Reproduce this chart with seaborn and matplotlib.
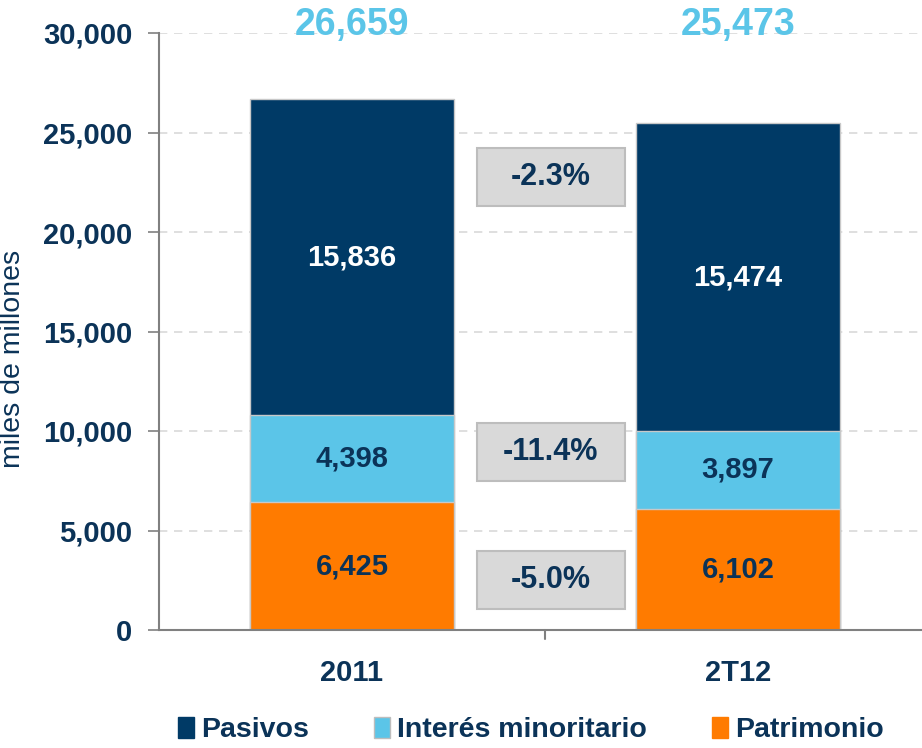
import numpy as np
import pandas as pd
import matplotlib
matplotlib.use('Agg')
import matplotlib.pyplot as plt
from matplotlib.patches import Rectangle, Patch
import seaborn as sns

sns.set_theme(style='white')
plt.rcParams['font.family'] = ['Liberation Sans', 'DejaVu Sans']

# data
PERIODS = ['2011', '2T12']
PATRIMONIO = [6425, 6102]
INTERES = [4398, 3897]
PASIVOS = [15836, 15474]
TOTALS = [26659, 25473]
CHANGES = ['-2.3%', '-11.4%', '-5.0%']
CHANGE_Y = [22750, 8950, 2500]

NAVY = '#003A66'
LIGHT = '#5BC5E8'
ORANGE = '#FF7B00'
TEXT = '#0B3358'

df = pd.DataFrame({
    'Periodo': PERIODS,
    'Patrimonio': PATRIMONIO,
    'Interes': INTERES,
    'Pasivos': PASIVOS,
})
df['cum_interes'] = df['Patrimonio'] + df['Interes']
df['cum_total'] = df['cum_interes'] + df['Pasivos']

fig = plt.figure(figsize=(9.22, 7.48), dpi=100)
ax = fig.add_axes([159 / 922, 118 / 748, 763 / 922, 597 / 748])

edge = dict(edgecolor='#C8C8C8', linewidth=1.0)
sns.barplot(data=df, x='Periodo', y='cum_total', color=NAVY, width=0.53, saturation=1, ax=ax, **edge)
sns.barplot(data=df, x='Periodo', y='cum_interes', color=LIGHT, width=0.53, saturation=1, ax=ax, **edge)
sns.barplot(data=df, x='Periodo', y='Patrimonio', color=ORANGE, width=0.53, saturation=1, ax=ax, **edge)

ax.set_ylim(0, 30000)
ax.set_xlim(-0.5, 1.477)
ax.set_yticks(np.arange(0, 30001, 5000))
ax.set_yticklabels([f'{v:,}' for v in range(0, 30001, 5000)], fontsize=21, fontweight='bold', color=TEXT)
ax.set_xticks([0, 1])
ax.set_xticklabels(PERIODS, fontsize=21, fontweight='bold', color=TEXT)
ax.tick_params(axis='x', length=0, pad=21)
ax.tick_params(axis='y', length=8, width=1.2, color='#808080', pad=11, left=True)
ax.set_xlabel('')
ax.set_ylabel('miles de millones', fontsize=20.5, color=TEXT)
ax.yaxis.set_label_coords(-0.174, 0.454)

ax.yaxis.grid(True, linestyle=(0, (5, 4)), color='#D9D9D9', linewidth=1.2)
ax.set_axisbelow(True)
for side in ['top', 'right']:
    ax.spines[side].set_visible(False)
ax.spines['left'].set_color('#808080')
ax.spines['left'].set_linewidth(1.5)
ax.spines['bottom'].set_color('#808080')
ax.spines['bottom'].set_linewidth(1.5)
# divider tick between categories
ax.plot([0.5, 0.5], [0, -9 / 597], transform=ax.get_xaxis_transform(), color='#808080',
        linewidth=1.5, clip_on=False)

# segment labels
for i in range(len(PERIODS)):
    ax.text(i, PATRIMONIO[i] / 2, f'{PATRIMONIO[i]:,}', ha='center', va='center',
            fontsize=21, fontweight='bold', color=TEXT)
    ax.text(i, PATRIMONIO[i] + INTERES[i] / 2, f'{INTERES[i]:,}', ha='center', va='center',
            fontsize=21, fontweight='bold', color=TEXT)
    ax.text(i, PATRIMONIO[i] + INTERES[i] + PASIVOS[i] / 2, f'{PASIVOS[i]:,}', ha='center',
            va='center', fontsize=21, fontweight='bold', color='white')
    ax.text(i, 30400, f'{TOTALS[i]:,}', ha='center', va='center', fontsize=27,
            fontweight='bold', color=LIGHT, clip_on=False)

# change boxes
box_w, box_h = 0.383, 2900
for label, yc in zip(CHANGES, CHANGE_Y):
    xc = 0.515
    ax.add_patch(Rectangle((xc - box_w / 2, yc - box_h / 2), box_w, box_h,
                           facecolor='#D9D9D9', edgecolor='#BDBDBD', linewidth=1.5, zorder=3))
    ax.text(xc, yc, label, ha='center', va='center', fontsize=22, fontweight='bold',
            color=TEXT, zorder=4)

handles = [Patch(facecolor=NAVY, edgecolor=NAVY), Patch(facecolor=LIGHT, edgecolor='#BDBDBD'),
           Patch(facecolor=ORANGE, edgecolor=ORANGE)]
leg = fig.legend(handles, ['Pasivos', 'Interés minoritario', 'Patrimonio'], loc='center',
                 bbox_to_anchor=(0.576, 0.024), ncol=3, frameon=False, handlelength=0.55,
                 handleheight=0.75, handletextpad=0.25, columnspacing=2.3,
                 prop={'size': 20.5, 'weight': 'bold'})
for t in leg.get_texts():
    t.set_color(TEXT)

fig.savefig('out.png', dpi=100)
